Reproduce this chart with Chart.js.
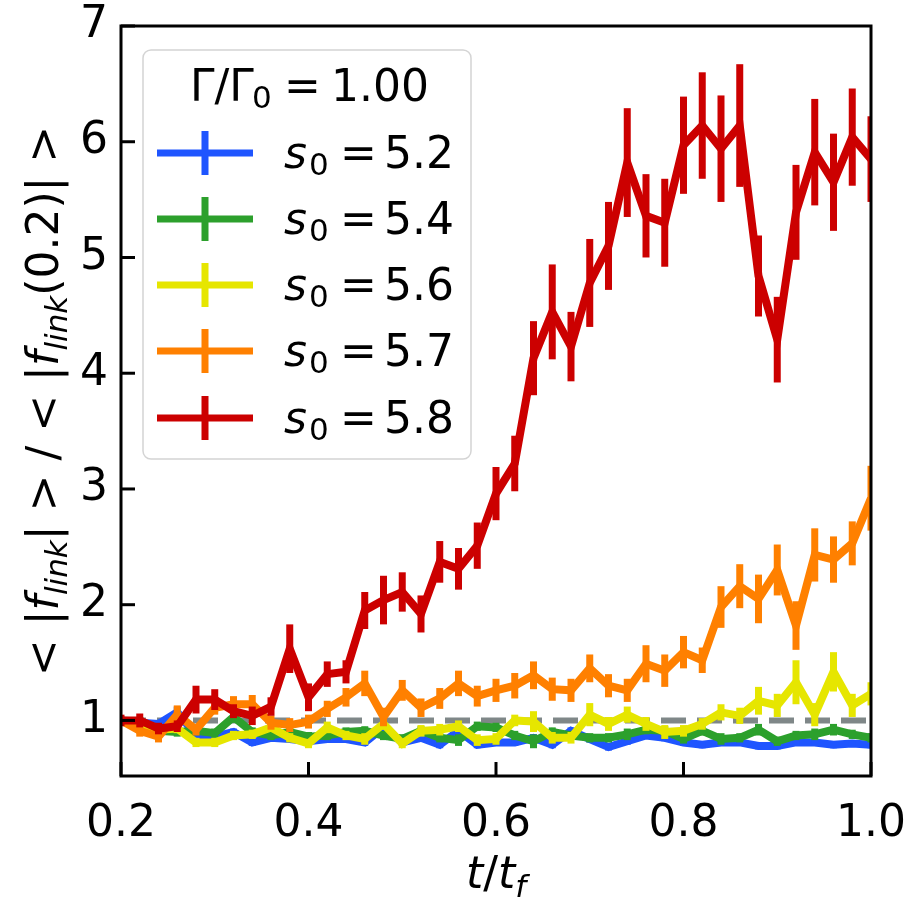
<!DOCTYPE html>
<html>
<head>
<meta charset="utf-8">
<script src="https://cdn.jsdelivr.net/npm/chart.js@4.4.1/dist/chart.umd.min.js"></script>
<style>
  html, body { margin: 0; padding: 0; background: #fff; }
</style>
</head>
<body>
<canvas id="myChart" width="915" height="907"></canvas>
<script>
'use strict';

// time axis t/t_f
var tValues = [0.20, 0.22, 0.24, 0.26, 0.28, 0.30, 0.32, 0.34, 0.36, 0.38,
  0.40, 0.42, 0.44, 0.46, 0.48, 0.50, 0.52, 0.54, 0.56, 0.58,
  0.60, 0.62, 0.64, 0.66, 0.68, 0.70, 0.72, 0.74, 0.76, 0.78,
  0.80, 0.82, 0.84, 0.86, 0.88, 0.90, 0.92, 0.94, 0.96, 0.98, 1.00];

var s52 = [1.00, 0.98, 0.97, 1.07, 0.87, 0.86, 0.90, 0.81, 0.85, 0.84,
  0.82, 0.84, 0.84, 0.81, 0.94, 0.81, 0.85, 0.79, 0.91, 0.79,
  0.81, 0.81, 0.85, 0.79, 0.91, 0.84, 0.77, 0.82, 0.87, 0.85,
  0.81, 0.79, 0.81, 0.81, 0.78, 0.78, 0.81, 0.81, 0.79, 0.80, 0.79];
var s52Err = [0.02, 0.03, 0.03, 0.05, 0.03, 0.03, 0.03, 0.03, 0.03, 0.03,
  0.03, 0.03, 0.03, 0.03, 0.03, 0.03, 0.03, 0.03, 0.03, 0.03,
  0.03, 0.03, 0.03, 0.03, 0.03, 0.03, 0.03, 0.03, 0.03, 0.03,
  0.03, 0.03, 0.03, 0.03, 0.03, 0.03, 0.03, 0.03, 0.03, 0.03, 0.03];

var s54 = [1.00, 0.99, 0.91, 0.90, 0.91, 0.89, 1.03, 0.90, 0.87, 0.90,
  0.86, 0.87, 0.90, 0.91, 0.87, 0.84, 0.91, 0.85, 0.83, 0.95,
  0.94, 0.87, 0.82, 0.90, 0.87, 0.85, 0.85, 0.88, 0.92, 0.91,
  0.84, 0.91, 0.84, 0.85, 0.92, 0.82, 0.87, 0.88, 0.92, 0.88, 0.85];
var s54Err = [0.02, 0.04, 0.04, 0.04, 0.04, 0.04, 0.05, 0.04, 0.04, 0.04,
  0.04, 0.04, 0.04, 0.04, 0.04, 0.04, 0.04, 0.04, 0.05, 0.04,
  0.04, 0.04, 0.06, 0.04, 0.04, 0.04, 0.04, 0.05, 0.04, 0.04,
  0.04, 0.04, 0.05, 0.04, 0.05, 0.04, 0.04, 0.05, 0.05, 0.04, 0.04];

var s56 = [1.00, 0.96, 0.92, 0.93, 0.81, 0.81, 0.87, 0.88, 0.94, 0.85,
  0.80, 0.94, 0.87, 0.84, 0.97, 0.80, 0.91, 0.92, 0.95, 0.83,
  0.84, 1.00, 0.99, 0.85, 0.85, 1.05, 0.97, 1.05, 0.97, 0.90,
  0.91, 0.97, 1.07, 1.04, 1.17, 1.13, 1.33, 1.05, 1.42, 1.13, 1.23];
var s56Err = [0.02, 0.04, 0.04, 0.04, 0.04, 0.04, 0.04, 0.04, 0.04, 0.04,
  0.04, 0.05, 0.04, 0.05, 0.05, 0.04, 0.05, 0.05, 0.05, 0.05,
  0.05, 0.05, 0.09, 0.05, 0.05, 0.10, 0.06, 0.07, 0.06, 0.06,
  0.05, 0.05, 0.07, 0.07, 0.12, 0.10, 0.19, 0.10, 0.17, 0.10, 0.10];

var s57 = [1.00, 0.91, 0.86, 1.05, 0.92, 1.11, 1.14, 1.14, 0.98, 0.96,
  0.99, 1.10, 1.20, 1.32, 1.03, 1.26, 1.11, 1.19, 1.32, 1.21,
  1.26, 1.30, 1.39, 1.27, 1.26, 1.45, 1.30, 1.26, 1.49, 1.43,
  1.59, 1.52, 1.98, 2.16, 2.05, 2.30, 1.82, 2.43, 2.39, 2.53, 2.92];
var s57Err = [0.03, 0.05, 0.05, 0.08, 0.05, 0.06, 0.07, 0.08, 0.06, 0.06,
  0.06, 0.07, 0.08, 0.11, 0.08, 0.09, 0.08, 0.09, 0.11, 0.09,
  0.10, 0.11, 0.12, 0.10, 0.10, 0.12, 0.10, 0.10, 0.16, 0.14,
  0.14, 0.11, 0.18, 0.19, 0.21, 0.22, 0.21, 0.23, 0.20, 0.19, 0.28];

var s58 = [1.00, 1.00, 0.93, 0.95, 1.18, 1.18, 1.08, 1.04, 1.12, 1.62,
  1.20, 1.40, 1.42, 1.95, 2.04, 2.11, 1.92, 2.37, 2.31, 2.51,
  2.96, 3.22, 4.13, 4.53, 4.23, 4.78, 5.10, 5.82, 5.36, 5.30,
  5.97, 6.14, 5.94, 6.14, 4.84, 4.29, 5.39, 5.91, 5.65, 6.04, 5.85];
var s58Err = [0.05, 0.06, 0.05, 0.05, 0.12, 0.09, 0.06, 0.08, 0.08, 0.21,
  0.12, 0.11, 0.10, 0.16, 0.21, 0.17, 0.16, 0.18, 0.18, 0.20,
  0.23, 0.24, 0.32, 0.41, 0.30, 0.38, 0.38, 0.47, 0.36, 0.38,
  0.42, 0.46, 0.46, 0.53, 0.35, 0.37, 0.41, 0.46, 0.42, 0.42, 0.37];

var refT = [0.2, 1.0];
var refLevel = [1, 1];

var seriesNames = ['5.2', '5.4', '5.6', '5.7', '5.8'];
var seriesValues = [s52, s54, s56, s57, s58];
var seriesErrors = [s52Err, s54Err, s56Err, s57Err, s58Err];
var seriesColors = ['#1f55ff', '#2ca02c', '#e6e600', '#ff8000', '#cc0000'];

var xTickValues = [0.2, 0.4, 0.6, 0.8, 1.0];
var yTickValues = [1, 2, 3, 4, 5, 6, 7];

var FONT = '"DejaVu Sans", sans-serif';

function points(xs, ys) {
  return xs.map(function (x, i) { return { x: x, y: ys[i] }; });
}

var datasets = seriesValues.map(function (vals, k) {
  return {
    label: 's0 = ' + seriesNames[k],
    data: points(tValues, vals),
    errors: seriesErrors[k],
    borderColor: seriesColors[k],
    borderWidth: 8,
    pointRadius: 0,
    tension: 0,
    order: 4 - k
  };
});
datasets.push({
  label: 'ref',
  data: points(refT, refLevel),
  borderColor: '#7f8788',
  borderWidth: 6,
  borderDash: [25, 11],
  pointRadius: 0,
  order: 10
});

// draws rich text pieces from a left x, baseline y
function drawPieces(ctx, pieces, x, y) {
  var cx = x;
  pieces.forEach(function (p) {
    ctx.font = p.font;
    ctx.fillText(p.t, cx, y + (p.dy || 0));
    cx += ctx.measureText(p.t).width + (p.gap || 0);
  });
}
function piecesWidth(ctx, pieces) {
  var w = 0;
  pieces.forEach(function (p) {
    ctx.font = p.font;
    w += ctx.measureText(p.t).width + (p.gap || 0);
  });
  return w;
}

var errorBars = {
  id: 'errorBars',
  afterDatasetDraw: function (chart, args) {
    var ds = chart.data.datasets[args.index];
    if (!ds.errors) return;
    var xs = chart.scales.x, ys = chart.scales.y, ctx = chart.ctx, a = chart.chartArea;
    ctx.save();
    ctx.beginPath();
    ctx.rect(a.left, a.top, a.right - a.left, a.bottom - a.top);
    ctx.clip();
    ctx.strokeStyle = ds.borderColor;
    ctx.lineWidth = 7;
    ds.data.forEach(function (p, i) {
      var px = xs.getPixelForValue(p.x);
      ctx.beginPath();
      ctx.moveTo(px, ys.getPixelForValue(p.y - ds.errors[i]));
      ctx.lineTo(px, ys.getPixelForValue(p.y + ds.errors[i]));
      ctx.stroke();
    });
    ctx.restore();
  }
};

var frameAndText = {
  id: 'frameAndText',
  afterDatasetsDraw: function (chart) {
    var ctx = chart.ctx, a = chart.chartArea, xs = chart.scales.x, ys = chart.scales.y;
    ctx.save();
    ctx.strokeStyle = '#000';
    ctx.lineWidth = 3;
    ctx.strokeRect(a.left, a.top, a.right - a.left, a.bottom - a.top);
    xTickValues.forEach(function (v) {
      var px = xs.getPixelForValue(v);
      ctx.beginPath();
      ctx.moveTo(px, a.bottom);
      ctx.lineTo(px, a.bottom - 14);
      ctx.stroke();
    });
    yTickValues.forEach(function (v) {
      var py = ys.getPixelForValue(v);
      ctx.beginPath();
      ctx.moveTo(a.left, py);
      ctx.lineTo(a.left + 14, py);
      ctx.stroke();
    });

    ctx.fillStyle = '#000';
    ctx.textAlign = 'left';
    ctx.textBaseline = 'alphabetic';
    var F = '44px ' + FONT, FI = 'italic 44px ' + FONT, FS = 'italic 31px ' + FONT;

    // x axis title: t/t_f
    var xt = [
      { t: 't', font: FI },
      { t: '/', font: F },
      { t: 't', font: FI },
      { t: 'f', font: FS, dy: 9 }
    ];
    drawPieces(ctx, xt, (a.left + a.right) / 2 - piecesWidth(ctx, xt) / 2, 888);

    // y axis title
    var yt = [
      { t: '< |', font: F },
      { t: 'f', font: FI },
      { t: 'link', font: FS, dy: 9 },
      { t: '| > / < |', font: F },
      { t: 'f', font: FI },
      { t: 'link', font: FS, dy: 9 },
      { t: '(0.2)| >', font: F }
    ];
    ctx.translate(58, (a.top + a.bottom) / 2);
    ctx.rotate(-Math.PI / 2);
    drawPieces(ctx, yt, -piecesWidth(ctx, yt) / 2, 0);
    ctx.restore();
  },
  afterDraw: function (chart) {
    var ctx = chart.ctx;
    var F = '44px ' + FONT, FI = 'italic 44px ' + FONT, FS = '31px ' + FONT;
    ctx.save();
    // legend frame
    ctx.beginPath();
    ctx.roundRect(143, 50, 328, 409, 8);
    ctx.fillStyle = 'rgba(255,255,255,0.8)';
    ctx.fill();
    ctx.strokeStyle = '#d4d4d4';
    ctx.lineWidth = 1.5;
    ctx.stroke();

    ctx.fillStyle = '#000';
    ctx.textAlign = 'left';
    ctx.textBaseline = 'alphabetic';
    ctx.font = F;
    ctx.fillText('\u0393/\u0393', 190, 101);
    ctx.font = FS;
    ctx.fillText('0', 252, 108);
    ctx.font = F;
    ctx.fillText('=', 284, 101);
    ctx.fillText('1.00', 331, 101);

    var rowY = [153, 219, 285, 351, 418];
    seriesNames.forEach(function (name, k) {
      var cy = rowY[k];
      ctx.strokeStyle = seriesColors[k];
      ctx.lineWidth = 7;
      ctx.beginPath();
      ctx.moveTo(157, cy);
      ctx.lineTo(253, cy);
      ctx.moveTo(205, cy - 22);
      ctx.lineTo(205, cy + 22);
      ctx.stroke();
      ctx.fillStyle = '#000';
      ctx.font = FI;
      ctx.fillText('s', 284, cy + 15);
      ctx.font = FS;
      ctx.fillText('0', 309, cy + 22);
      ctx.font = F;
      ctx.fillText('=', 340, cy + 15);
      ctx.fillText(name, 384, cy + 15);
    });
    ctx.restore();
  }
};

var ctx = document.getElementById('myChart').getContext('2d');

var myChart = new Chart(ctx, {
  type: 'line',
  data: { datasets: datasets },
  options: {
    responsive: false,
    animation: false,
    layout: { padding: { top: 26, right: 44, left: 0, bottom: 0 } },
    plugins: {
      legend: { display: false },
      tooltip: { enabled: false }
    },
    scales: {
      x: {
        type: 'linear',
        min: 0.2,
        max: 1.0,
        afterFit: function (scale) {
          scale.height = 131;
          scale.paddingLeft = 0;
          scale.paddingRight = 0;
        },
        afterBuildTicks: function (scale) {
          scale.ticks = xTickValues.map(function (v) { return { value: v }; });
        },
        ticks: {
          color: '#000',
          padding: 22,
          maxRotation: 0,
          font: { family: FONT, size: 44 },
          callback: function (v) { return v.toFixed(1); }
        },
        grid: { display: false, drawTicks: false },
        border: { display: false }
      },
      y: {
        type: 'linear',
        min: 0.52,
        max: 7,
        afterFit: function (scale) {
          scale.width = 121;
          scale.paddingTop = 0;
          scale.paddingBottom = 0;
        },
        afterBuildTicks: function (scale) {
          scale.ticks = yTickValues.map(function (v) { return { value: v }; });
        },
        ticks: {
          color: '#000',
          padding: 13,
          font: { family: FONT, size: 44 },
          callback: function (v) { return String(v); }
        },
        grid: { display: false, drawTicks: false },
        border: { display: false }
      }
    }
  },
  plugins: [errorBars, frameAndText]
});
</script>
</body>
</html>
